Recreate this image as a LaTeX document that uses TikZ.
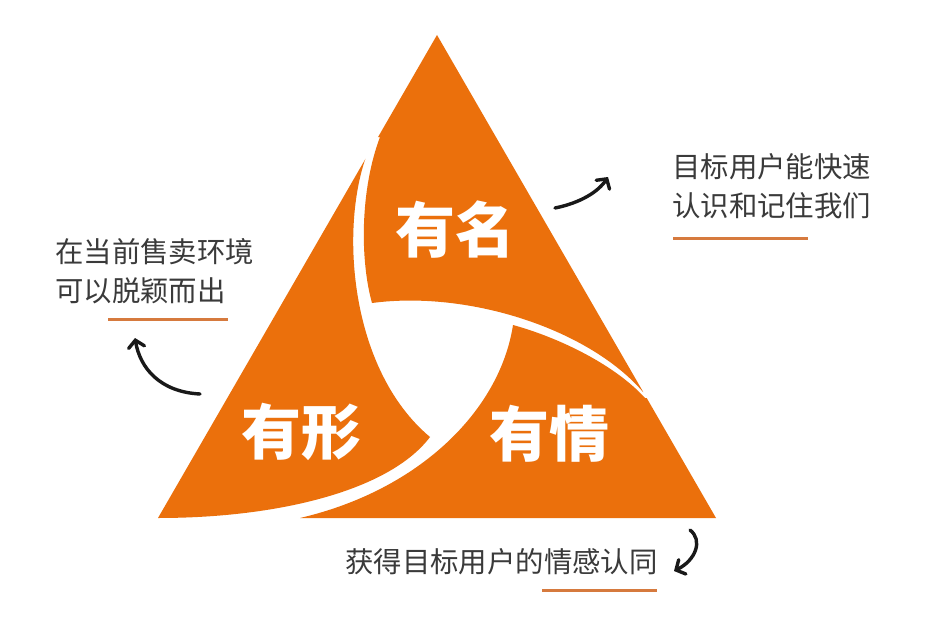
\documentclass[tikz,border=0pt]{standalone}
\usepackage{fontspec}
\newfontfamily\cjk{Noto Sans CJK SC}
\usetikzlibrary{arrows.meta}
\definecolor{org}{RGB}{235,112,12}
\definecolor{uln}{RGB}{214,122,62}
\definecolor{txt}{RGB}{58,58,58}
\definecolor{ink}{RGB}{25,25,25}
\tikzset{
  piece/.style={fill=org},
  small/.style={anchor=base west, inner sep=0pt, text=txt, font=\cjk\fontsize{28.4}{34}\selectfont},
  big/.style={anchor=base, inner sep=0pt, text=white, font=\cjk\bfseries\fontsize{60}{70}\selectfont},
  uline/.style={draw=uln, line width=3pt},
  arr/.style={draw=ink, line width=3.4pt, line cap=round, line join=round, -{Straight Barb[length=7pt,width=16pt,line cap=round]}}
}
\begin{document}
\begin{tikzpicture}[x=1pt,y=-1pt]
\useasboundingbox (0,0) rectangle (926,634);
\fill[white] (0,0) rectangle (926,634);
\begin{scope}
\clip (437,35) -- (716,518) -- (158,518) -- cycle;
% top piece
\fill[piece] (372,303) .. controls (360,260) and (360,190) .. (380,137) -- (330,137) -- (437,0) -- (700,392) -- (643,392) .. controls (590,330) and (470,290) .. (372,303) -- cycle;
% right piece
\fill[piece] (513,325) .. controls (560,338) and (615,365) .. (645,398) -- (720,398) -- (760,560) -- (300,560) -- (300,518) .. controls (420,490) and (500,410) .. (513,325) -- cycle;
% left piece
\fill[piece] (430,437) .. controls (350,370) and (340,230) .. (366,157) -- (300,157) -- (100,560) -- (158,560) -- (158,518) .. controls (280,518) and (390,490) .. (430,437) -- cycle;
\end{scope}
% big labels
\node[big] (ming) at (455,252) {有名};
\node[big] (qing) at (549,456) {有情};
\node[big] (xing) at (301,454) {有形};
% side texts
\node[small] (l1) at (55,262) {在当前售卖环境};
\node[small] (l2) at (55,301) {可以脱颖而出};
\node[small] (r1) at (672,177) {目标用户能快速};
\node[small] (r2) at (672,216) {认识和记住我们};
\node[small] (b1) at (345,572) {获得目标用户的情感认同};
% underlines
\draw[uline] (108,319) -- (228,319);
\draw[uline] (673,238) -- (808,238);
\draw[uline] (542,590) -- (657,590);
% arrows
\coordinate (la0) at (200,394);
\coordinate (la1) at (135,338);
\coordinate (ra0) at (555,208);
\coordinate (ra1) at (608,177);
\coordinate (ba0) at (690,530);
\coordinate (ba1) at (674,571);
\draw[arr] (la0) .. controls (160,392) and (140,368) .. (la1);
\draw[arr] (ra0) .. controls (580,203) and (598,192) .. (ra1);
\draw[arr] (ba0) .. controls (703,540) and (696,560) .. (ba1);
\end{tikzpicture}
\end{document}
